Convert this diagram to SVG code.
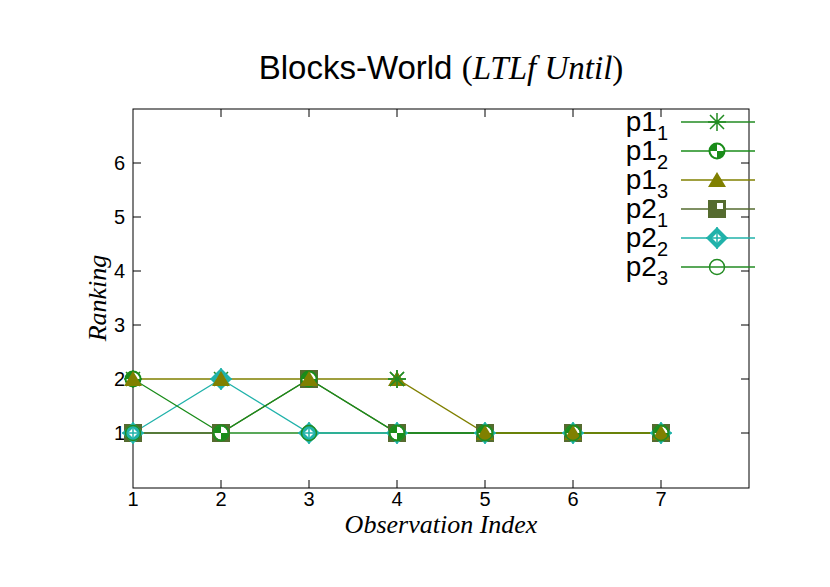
<svg xmlns="http://www.w3.org/2000/svg" width="830" height="587" viewBox="0 0 830 587">
<style>
.t{font-family:"Liberation Sans",Arial,sans-serif;font-size:20px;fill:#000}
.i{font-family:"Liberation Serif","Times New Roman",serif;font-style:italic;font-size:26px;fill:#000}
.k{stroke:#000;stroke-width:1}
.ln{fill:none;stroke-width:1.3}
.lg{font-family:"Liberation Sans",Arial,sans-serif;font-size:28px;fill:#000}
.sb{font-size:20px}
</style>
<defs>
<g id="star"><path d="M-7,-7L7,7M-7,7L7,-7M0,-9V9M-9,0H9" stroke="#228B22" stroke-width="1.5"/></g>
<g id="hc"><circle r="7.5" fill="#fff" stroke="#1a8c1a" stroke-width="2"/><path d="M0,0V-7.5A7.5,7.5 0 0 0 -7.5,0ZM0,0V7.5A7.5,7.5 0 0 0 7.5,0Z" fill="#1a8c1a"/></g>
<g id="tri"><path d="M0,-8L9,7H-9Z" fill="#808000"/></g>
<g id="sq"><rect x="-9" y="-9" width="18" height="18" fill="#556B2F"/><rect x="0" y="-6" width="6" height="6" fill="#fff"/></g>
<g id="dm"><path d="M0,-11L11,0L0,11L-11,0Z" fill="#20B2AA"/><path d="M0,-5L5,0L0,5L-5,0Z" fill="#fff"/><path d="M0,-11V11M-11,0H11" stroke="#20B2AA" stroke-width="1.5"/></g>
<g id="oc"><circle r="7.5" fill="none" stroke="#228B22" stroke-width="1.5"/></g>
</defs>
<rect width="830" height="587" fill="#fff"/>
<text x="441" y="79" text-anchor="middle" style="font-size:33px"><tspan style="font-family:'Liberation Sans',Arial,sans-serif;font-size:33px">Blocks-World </tspan><tspan style="font-family:'Liberation Serif',serif;font-size:33px">(</tspan><tspan style="font-family:'Liberation Serif',serif;font-style:italic;font-size:33px">LTLf Until</tspan><tspan style="font-family:'Liberation Serif',serif;font-size:33px">)</tspan></text>
<g id="axes">
<rect x="133" y="109" width="616" height="379" fill="none" class="k"/>
<path class="k" d="M133,433h8M133,379h8M133,325h8M133,271h8M133,217h8M133,163h8M749,433h-8M749,379h-8M749,325h-8M749,271h-8M749,217h-8M749,163h-8M221,488v-8M309,488v-8M397,488v-8M485,488v-8M573,488v-8M661,488v-8M221,109v8M309,109v8M397,109v8M485,109v8M573,109v8M661,109v8"/>
<g class="t" text-anchor="end"><text x="125" y="440">1</text><text x="125" y="386">2</text><text x="125" y="332">3</text><text x="125" y="278">4</text><text x="125" y="224">5</text><text x="125" y="170">6</text></g>
<g class="t" text-anchor="middle"><text x="133" y="506">1</text><text x="221" y="506">2</text><text x="309" y="506">3</text><text x="397" y="506">4</text><text x="485" y="506">5</text><text x="573" y="506">6</text><text x="661" y="506">7</text></g>
<text class="i" x="441" y="533" text-anchor="middle">Observation Index</text>
<text class="i" transform="translate(106,298) rotate(-90)" text-anchor="middle">Ranking</text>
</g>
<g id="connectors">
<path class="ln" stroke="#228B22" d="M133,433H661"/>
<path class="ln" stroke="#20B2AA" d="M133,433L221,379L309,433H661"/>
<path class="ln" stroke="#556B2F" d="M133,433L221,433L309,379L397,433H661"/>
<path class="ln" stroke="#1a8c1a" d="M133,379L221,433L309,379L397,433H661"/>
<path class="ln" stroke="#808000" d="M133,379H397L485,433H661"/>
</g>
<g id="p1_1"><use href="#star" x="133" y="379"/><use href="#star" x="221" y="379"/><use href="#star" x="309" y="379"/><use href="#star" x="397" y="379"/><use href="#star" x="485" y="433"/><use href="#star" x="573" y="433"/><use href="#star" x="661" y="433"/></g>
<g id="p2_1"><use href="#sq" x="133" y="433"/><use href="#sq" x="221" y="433"/><use href="#sq" x="309" y="379"/><use href="#sq" x="397" y="433"/><use href="#sq" x="485" y="433"/><use href="#sq" x="573" y="433"/><use href="#sq" x="661" y="433"/></g>
<g id="p2_2"><use href="#dm" x="133" y="433"/><use href="#dm" x="221" y="379"/><use href="#dm" x="309" y="433"/><use href="#dm" x="397" y="433"/><use href="#dm" x="485" y="433"/><use href="#dm" x="573" y="433"/><use href="#dm" x="661" y="433"/></g>
<g id="p1_2"><use href="#hc" x="133" y="379"/><use href="#hc" x="221" y="433"/><use href="#hc" x="309" y="379"/><use href="#hc" x="397" y="433"/><use href="#hc" x="485" y="433"/><use href="#hc" x="573" y="433"/><use href="#hc" x="661" y="433"/></g>
<g id="p1_3"><use href="#tri" x="133" y="379"/><use href="#tri" x="221" y="379"/><use href="#tri" x="309" y="379"/><use href="#tri" x="485" y="433"/><use href="#tri" x="573" y="433"/><use href="#tri" x="661" y="433"/><use href="#tri" x="397" y="379"/><use href="#star" x="397" y="379"/></g>
<g id="p2_3"><use href="#oc" x="133" y="433"/><use href="#oc" x="221" y="433"/><use href="#oc" x="309" y="433"/><use href="#oc" x="397" y="433"/><use href="#oc" x="485" y="433"/><use href="#oc" x="573" y="433"/><use href="#oc" x="661" y="433"/></g>
<g id="legend" text-anchor="end">
<text class="lg" x="668" y="131">p1<tspan class="sb" dy="9">1</tspan></text>
<text class="lg" x="668" y="160">p1<tspan class="sb" dy="9">2</tspan></text>
<text class="lg" x="668" y="189">p1<tspan class="sb" dy="9">3</tspan></text>
<text class="lg" x="668" y="218">p2<tspan class="sb" dy="9">1</tspan></text>
<text class="lg" x="668" y="247">p2<tspan class="sb" dy="9">2</tspan></text>
<text class="lg" x="668" y="276">p2<tspan class="sb" dy="9">3</tspan></text>
<path class="ln" stroke="#228B22" d="M681,122H755"/><use href="#star" x="717" y="122"/>
<path class="ln" stroke="#1a8c1a" d="M681,151H755"/><use href="#hc" x="717" y="151"/>
<path class="ln" stroke="#808000" d="M681,180H755"/><use href="#tri" x="717" y="180"/>
<path class="ln" stroke="#556B2F" d="M681,209H755"/><use href="#sq" x="717" y="209"/>
<path class="ln" stroke="#20B2AA" d="M681,238H755"/><use href="#dm" x="717" y="238"/>
<path class="ln" stroke="#228B22" d="M681,267H755"/><use href="#oc" x="717" y="267"/>
</g>
</svg>
